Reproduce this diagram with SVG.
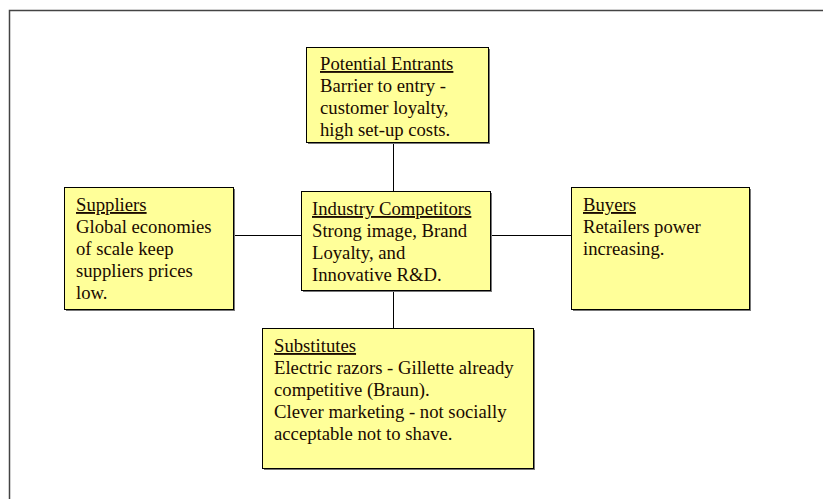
<svg xmlns="http://www.w3.org/2000/svg" width="823" height="499" viewBox="0 0 823 499">
<defs>
<style>
.box{fill:#FFFF99;stroke:#000;stroke-width:1}
.sh{fill:#777}
.t{font-family:"Liberation Serif","Times New Roman",serif;font-size:18.7px;fill:#1a0a00}
.u{text-decoration:underline}
.c{stroke:#000;stroke-width:1;fill:none}
</style>
</defs>
<rect width="823" height="499" fill="#fff"/>
<path d="M9.5,499 V10.5 H823" stroke="#444" stroke-width="1.5" fill="none"/>
<g id="connectors">
<line class="c" x1="393.5" y1="142" x2="393.5" y2="191"/>
<line class="c" x1="393.5" y1="290" x2="393.5" y2="328"/>
<line class="c" x1="233" y1="235.5" x2="301" y2="235.5"/>
<line class="c" x1="490" y1="235.5" x2="571" y2="235.5"/>
</g>
<g id="potential-entrants">
<rect class="sh" x="308" y="49" width="182" height="95"/>
<rect class="box" x="306.5" y="47.5" width="182" height="95"/>
<text class="t" x="320" y="70"><tspan class="u">Potential Entrants</tspan><tspan x="320" dy="22">Barrier to entry -</tspan><tspan x="320" dy="22">customer loyalty,</tspan><tspan x="320" dy="22">high set-up costs.</tspan></text>
</g>
<g id="suppliers">
<rect class="sh" x="66" y="189" width="169" height="122"/>
<rect class="box" x="64.5" y="187.5" width="169" height="122"/>
<text class="t" x="76" y="211"><tspan class="u">Suppliers</tspan><tspan x="76" dy="22">Global economies</tspan><tspan x="76" dy="22">of scale keep</tspan><tspan x="76" dy="22">suppliers prices</tspan><tspan x="76" dy="22">low.</tspan></text>
</g>
<g id="industry-competitors">
<rect class="sh" x="303" y="193" width="189" height="99"/>
<rect class="box" x="301.5" y="191.5" width="189" height="99"/>
<text class="t" x="312" y="215"><tspan class="u">Industry Competitors</tspan><tspan x="312" dy="22">Strong image, Brand</tspan><tspan x="312" dy="22">Loyalty, and</tspan><tspan x="312" dy="22">Innovative R&amp;D.</tspan></text>
</g>
<g id="buyers">
<rect class="sh" x="573" y="189" width="178" height="122"/>
<rect class="box" x="571.5" y="187.5" width="178" height="122"/>
<text class="t" x="583" y="211"><tspan class="u">Buyers</tspan><tspan x="583" dy="22">Retailers power</tspan><tspan x="583" dy="22">increasing.</tspan></text>
</g>
<g id="substitutes">
<rect class="sh" x="264" y="330" width="271" height="140"/>
<rect class="box" x="262.5" y="328.5" width="271" height="140"/>
<text class="t" x="274" y="352"><tspan class="u">Substitutes</tspan><tspan x="274" dy="22">Electric razors - Gillette already</tspan><tspan x="274" dy="22">competitive (Braun).</tspan><tspan x="274" dy="22">Clever marketing - not socially</tspan><tspan x="274" dy="22">acceptable not to shave.</tspan></text>
</g>
</svg>
